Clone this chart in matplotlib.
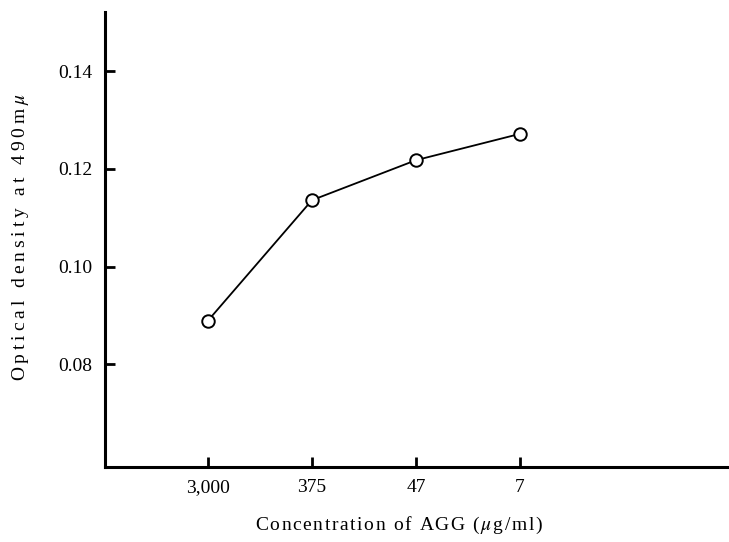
import matplotlib
matplotlib.use("Agg")
import matplotlib.pyplot as plt

categories = ["3,000", "375", "47", "7"]
optical_density = [0.0889, 0.1136, 0.1218, 0.1272]
y_ticks = [0.08, 0.10, 0.12, 0.14]

plt.rcParams['font.family'] = ['Liberation Serif', 'DejaVu Serif']
plt.rcParams['mathtext.fontset'] = 'stix'


def spaced(text, sep):
    return sep.join(text)


fig = plt.figure(figsize=(7.29, 5.42), dpi=100)
ax = fig.add_axes([0.144, 0.1384, 0.856, 0.8396])

x = list(range(len(categories)))
ax.plot(x, optical_density, color='black', lw=1.3, marker='o', ms=9,
        mfc='white', mec='black', mew=1.4, zorder=3, clip_on=False)

ax.set_xlim(-0.99, 5.01)
ax.set_ylim(0.0589, 0.1522)
ax.set_xticks(x)
ax.set_xticklabels(categories)
ax.set_yticks(y_ticks)
ax.set_yticklabels([f"{v:.2f}" for v in y_ticks])

for s in ['top', 'right']:
    ax.spines[s].set_visible(False)
for s in ['left', 'bottom']:
    ax.spines[s].set_linewidth(2.2)

ax.tick_params(axis='both', direction='in', length=7, width=2, labelsize=14)
ax.tick_params(axis='x', pad=9)
ax.tick_params(axis='y', pad=9)

thin = '\u2009'
hair = '\u200a'
ylab = spaced("Optical density at 490m", thin) + thin + r"$\mu$"
xlab = spaced("Concentration of AGG (", hair) + hair + r"$\mu$" + hair + spaced("g/ml)", hair)

ax.set_xlabel(xlab, fontsize=14, va='center')
ax.set_ylabel(ylab, fontsize=14, va='center')
ax.xaxis.set_label_coords((399 - 105) / 624, (467 - 525) / 455)
ax.yaxis.set_label_coords((21 - 105) / 624, (467 - 237) / 455)

fig.savefig("out.png", dpi=100)
